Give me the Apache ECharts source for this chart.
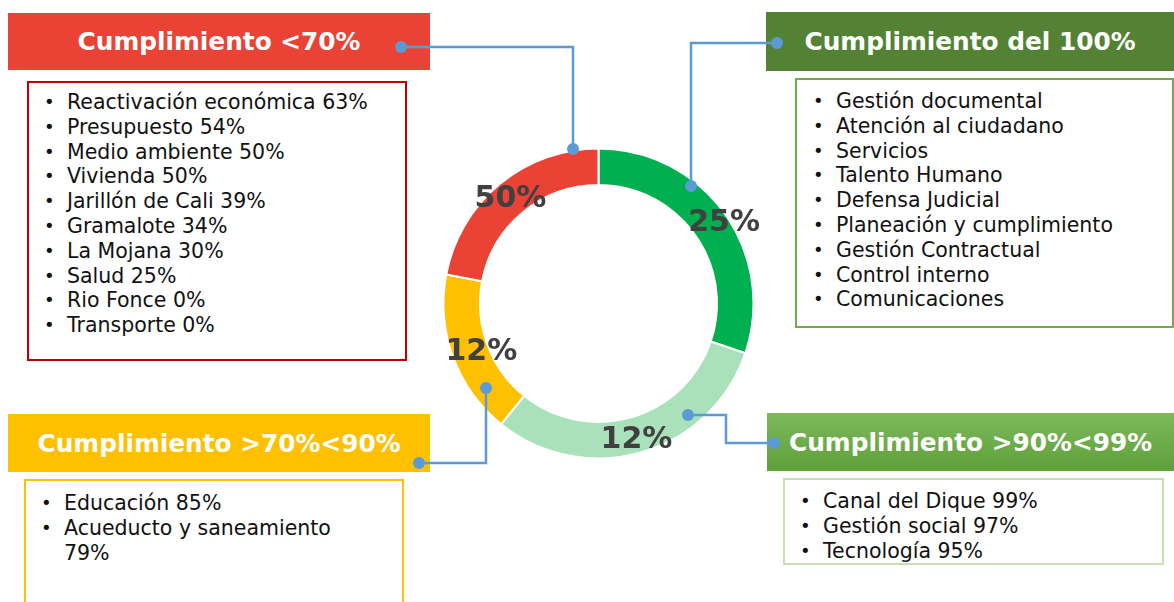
<!DOCTYPE html>
<html lang="es">
<head>
<meta charset="utf-8">
<title>Cumplimiento</title>
<script src="https://cdn.jsdelivr.net/npm/echarts@6/dist/echarts.min.js"></script>
<style>
  body { margin: 0; background: #fff; font-family: "DejaVu Sans", Verdana, sans-serif; }
  #page { position: relative; width: 1174px; height: 602px; overflow: hidden; }
  #chart { position: absolute; left: 0; top: 0; width: 1174px; height: 602px; z-index: 2; pointer-events: none; }
  .head { position: absolute; z-index: 1; color: #fff; font-weight: bold; font-size: 24.8px;
          display: flex; align-items: center; justify-content: center; white-space: nowrap; }
  .list { position: absolute; z-index: 1; box-sizing: border-box; background: #fff; }
  .list div { position: relative; font-size: 20.5px; line-height: 24.8px; color: #111; white-space: nowrap; }
  .list div::before { content: "\2022"; position: absolute; left: -23px; font-size: 18px; }
</style>
</head>
<body>
<div id="page">
  <div id="boxes"></div>
  <div id="chart"></div>
</div>
<script>
// ring slices, clockwise from 12 o'clock
var groupNames = ['Cumplimiento del 100%', 'Cumplimiento >90%<99%', 'Cumplimiento >70%<90%', 'Cumplimiento <70%'];
var sliceShares = [30.2, 30.6, 17.2, 22.0];   // arc size
var sliceLabels = ['25%', '12%', '12%', '50%'];

var items100 = ['Gestión documental', 'Atención al ciudadano', 'Servicios', 'Talento Humano',
  'Defensa Judicial', 'Planeación y cumplimiento', 'Gestión Contractual', 'Control interno', 'Comunicaciones'];
var items90 = ['Canal del Dique 99%', 'Gestión social 97%', 'Tecnología 95%'];
var items70 = ['Educación 85%', 'Acueducto y saneamiento<br>79%'];
var itemsLow = ['Reactivación económica 63%', 'Presupuesto 54%', 'Medio ambiente 50%', 'Vivienda 50%',
  'Jarillón de Cali 39%', 'Gramalote 34%', 'La Mojana 30%', 'Salud 25%', 'Rio Fonce 0%', 'Transporte 0%'];

var sliceColors = ['#00B050', '#A9E2BA', '#FFC000', '#EA4335'];

// boxes: header rect, list rect, text padding
var layout = [
  { items: items100, head: [766, 12, 408, 59, '#548235'], list: [795, 78, 379, 250, '#70AD47'], pad: [9, 39] },
  { items: items90, head: [767, 413, 407, 58, 'linear-gradient(#7DB95B,#5FA03A)'], list: [783, 478, 381, 87, '#C5E0B4'], pad: [9, 38] },
  { items: items70, head: [8, 414, 422, 58, '#FFC000'], list: [24, 479, 380, 140, '#FFC000'], pad: [10, 38] },
  { items: itemsLow, head: [8, 13, 422, 57, '#EA4335'], list: [27, 81, 380, 280, '#C00000'], pad: [7, 38] }
];

var boxes = document.getElementById('boxes');
layout.forEach(function (b, i) {
  var h = document.createElement('div');
  h.className = 'head';
  h.style.cssText = 'left:' + b.head[0] + 'px;top:' + b.head[1] + 'px;width:' + b.head[2] + 'px;height:' + b.head[3] + 'px;background:' + b.head[4];
  h.textContent = groupNames[i];
  boxes.appendChild(h);
  var l = document.createElement('div');
  l.className = 'list';
  l.style.cssText = 'left:' + b.list[0] + 'px;top:' + b.list[1] + 'px;width:' + b.list[2] + 'px;height:' + b.list[3] + 'px;border:2px solid ' + b.list[4] +
    ';padding-top:' + b.pad[0] + 'px;padding-left:' + b.pad[1] + 'px';
  b.items.forEach(function (t) {
    var d = document.createElement('div');
    d.innerHTML = t;
    l.appendChild(d);
  });
  boxes.appendChild(l);
});

var labelOffsets = [[12, 1], [-1, 3], [14, 1], [1, 3]];
var blue = '#5B9BD5';

function connector(points) {
  var els = [{ type: 'polyline', z: 100, shape: { points: points }, style: { stroke: blue, lineWidth: 2.5, fill: null } }];
  [points[0], points[points.length - 1]].forEach(function (p) {
    els.push({ type: 'circle', z: 101, shape: { cx: p[0], cy: p[1], r: 6 }, style: { fill: blue } });
  });
  return els;
}

var myChart = echarts.init(document.getElementById('chart'));
myChart.setOption({
  backgroundColor: 'transparent',
  animation: false,
  series: [{
    type: 'pie',
    z: 2,
    center: [598.5, 303.5],
    radius: [118.5, 155],
    startAngle: 90,
    clockwise: true,
    silent: true,
    itemStyle: { borderColor: '#fff', borderWidth: 2 },
    label: {
      show: true,
      position: 'inside',
      fontFamily: 'DejaVu Sans',
      fontSize: 30,
      fontWeight: 'bold',
      color: '#404040',
      formatter: function (p) { return sliceLabels[p.dataIndex]; }
    },
    labelLine: { show: false },
    data: sliceShares.map(function (v, i) {
      return { value: v, name: groupNames[i], itemStyle: { color: sliceColors[i] }, label: { offset: labelOffsets[i] } };
    })
  }],
  graphic: [].concat(
    connector([[401, 47], [573, 47], [573, 149]]),
    connector([[777, 43], [691, 43], [691, 186]]),
    connector([[419, 463], [486, 463], [486, 388]]),
    connector([[774, 443], [726, 443], [726, 415], [688, 415]])
  )
});
</script>
</body>
</html>
